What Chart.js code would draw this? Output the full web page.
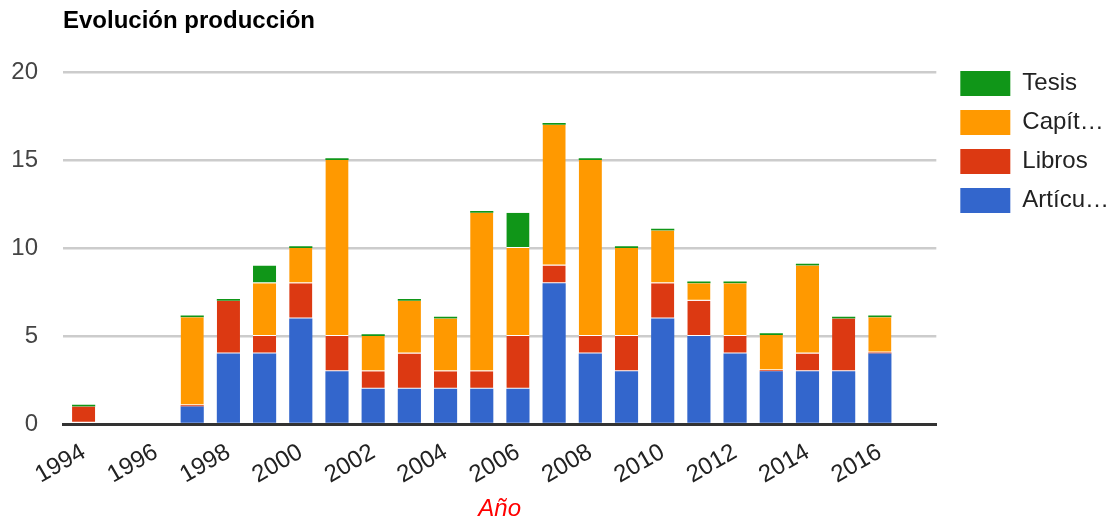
<!DOCTYPE html>
<html lang="es">
<head>
<meta charset="utf-8">
<title>Evolución producción</title>
<script src="https://cdn.jsdelivr.net/npm/chart.js@4.4.1/dist/chart.umd.min.js"></script>
<style>
  html, body { margin: 0; padding: 0; background: #fff; }
  #wrap { position: relative; width: 1111px; height: 524px; }
</style>
</head>
<body>
<div id="wrap"><canvas id="produccion"></canvas></div>
<script>
const years = [1994, 1995, 1996, 1997, 1998, 1999, 2000, 2001, 2002, 2003, 2004, 2005,
               2006, 2007, 2008, 2009, 2010, 2011, 2012, 2013, 2014, 2015, 2016];

const articulos = [0, 0, 0, 1, 4, 4, 6, 3, 2, 2, 2, 2, 2, 8, 4, 3, 6, 5, 4, 3, 3, 3, 4];
const libros    = [1, 0, 0, 0.06, 3, 1, 2, 2, 1, 2, 1, 1, 3, 1, 1, 2, 2, 2, 1, 0.06, 1, 3, 0.06];
const capitulos = [0, 0, 0, 5, 0, 3, 2, 10, 2, 3, 3, 9, 5, 8, 10, 5, 3, 1, 3, 2, 5, 0, 2];
const tesis     = [0.1, 0, 0, 0.1, 0.1, 1, 0.1, 0.1, 0.1, 0.1, 0.1, 0.1, 2, 0.1, 0.1, 0.1, 0.1, 0.1, 0.1, 0.1, 0.1, 0.1, 0.1];

const seriesNames = ['Artículos', 'Libros', 'Capítulos', 'Tesis'];
const xTickYears = [1994, 1996, 1998, 2000, 2002, 2004, 2006, 2008, 2010, 2012, 2014, 2016];
const yTicks = [0, 5, 10, 15, 20];

const FONT = "'Liberation Sans', Arial, sans-serif";
Chart.defaults.font.family = FONT;

function segment(label, data, color, separated) {
    return {
        label: label,
        data: data,
        backgroundColor: color,
        borderColor: '#fff',
        borderSkipped: false,
        // thin white gap under every full block, slivers sit flush
        borderWidth: function(ctx) {
            const gap = separated && ctx.raw >= 0.5 ? 1 : 0;
            return {top: 0, right: 0, left: 0, bottom: gap};
        },
        barPercentage: 0.64,
        categoryPercentage: 1
    };
}

// cut legend names that are too wide for the column
function fitText(ctx, text, maxWidth) {
    if (ctx.measureText(text).width <= maxWidth) return text;
    let t = text;
    while (t.length > 1 && ctx.measureText(t + '\u2026').width > maxWidth) {
        t = t.slice(0, -1);
    }
    return t + '\u2026';
}

// keep the legend's first box level with the top gridline
const legendPlace = {
    id: 'legendPlace',
    afterLayout(chart) {
        const lg = chart.legend;
        const pad = lg.options.labels.padding;
        lg.top = chart.chartArea.top - 1 - pad;
        lg.left = chart.chartArea.right + 24 - pad;
    }
};

const data = {
    labels: years,
    datasets: [
        segment(seriesNames[0], articulos, '#3366cc', false),
        segment(seriesNames[1], libros, '#dc3912', true),
        segment(seriesNames[2], capitulos, '#ff9900', true),
        segment(seriesNames[3], tesis, '#109618', true)
    ]
};

const options = {
    responsive: true,
    maintainAspectRatio: false,
    animation: false,
    layout: {
        padding: {top: 7, left: 12, right: 2, bottom: 0}
    },
    plugins: {
        title: {
            display: true,
            text: 'Evolución producción',
            align: 'start',
            fullSize: false,
            color: '#000',
            font: {size: 24, weight: 'bold'},
            padding: {top: 0, bottom: 36.2}
        },
        legend: {
            position: 'right',
            align: 'start',
            fullSize: false,
            reverse: true,
            labels: {
                boxWidth: 50,
                boxHeight: 25,
                padding: 14,
                color: '#222',
                font: {size: 24},
                generateLabels: function(chart) {
                    const items = Chart.defaults.plugins.legend.labels.generateLabels(chart);
                    const ctx = chart.ctx;
                    ctx.save();
                    ctx.font = '24px ' + FONT;
                    items.forEach(function(it) {
                        it.text = fitText(ctx, it.text, 89);
                        it.lineWidth = 0;
                    });
                    ctx.restore();
                    return items;
                }
            }
        },
        tooltip: {enabled: false}
    },
    scales: {
        x: {
            type: 'linear',
            stacked: true,
            offset: false,
            min: 1993.43,
            max: 2017.56,
            z: 1,
            grid: {display: false, drawTicks: false},
            border: {display: true, color: '#333', width: 3},
            afterBuildTicks: function(scale) {
                scale.ticks = xTickYears.map(v => ({value: v}));
            },
            afterFit: function(scale) {
                // rotated labels plus the axis title
                scale.height = 100;
                scale.paddingLeft = 0;
                scale.paddingRight = 0;
            },
            ticks: {
                autoSkip: false,
                minRotation: 30,
                maxRotation: 30,
                padding: 14,
                color: '#222',
                font: {size: 24},
                callback: value => String(value)
            },
            title: {
                display: true,
                text: 'Año',
                color: '#ff0000',
                font: {size: 24, style: 'italic'},
                padding: {top: 5.6, bottom: 0}
            }
        },
        y: {
            stacked: true,
            min: yTicks[0],
            max: yTicks[yTicks.length - 1],
            grid: {color: '#cccccc', lineWidth: 2.5, drawTicks: false},
            border: {display: false},
            afterBuildTicks: function(scale) {
                scale.ticks = yTicks.map(v => ({value: v}));
            },
            afterFit: function(scale) {
                scale.width = 51;
            },
            ticks: {
                padding: 25,
                color: '#444',
                font: {size: 24}
            }
        }
    }
};

const ctx = document.getElementById('produccion').getContext('2d');
const chart = new Chart(ctx, {
    type: 'bar',
    data: data,
    options: options,
    plugins: [legendPlace]
});
</script>
</body>
</html>
